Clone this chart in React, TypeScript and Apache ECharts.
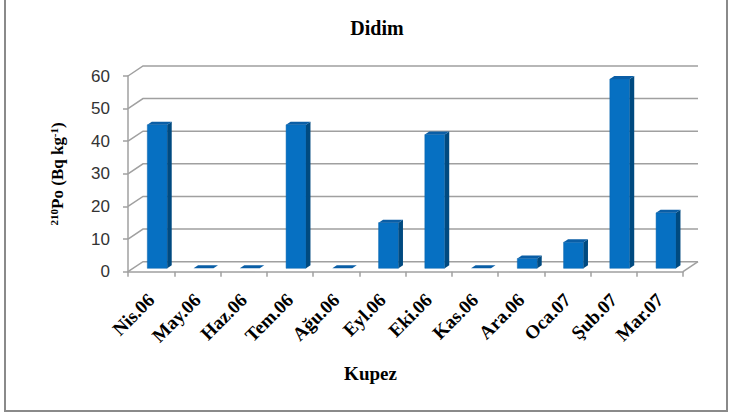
import React, { useEffect, useRef } from "react";
import * as echarts from "echarts";

// Monthly 210Po activity at Didim (Bq/kg)
const categories = [
  "Nis.06", "May.06", "Haz.06", "Tem.06", "Ağu.06", "Eyl.06",
  "Eki.06", "Kas.06", "Ara.06", "Oca.07", "Şub.07", "Mar.07",
];
const po210 = [44, 0, 0, 44, 0, 14, 41, 0, 3, 8, 58, 17];
const yTicks = [0, 10, 20, 30, 40, 50, 60];

const GRID_COLOR = "#a0a0a0";
const DEPTH_X = 15;
const DEPTH_Y = -10;

export default function App() {
  const ref = useRef<HTMLDivElement>(null);

  useEffect(() => {
    if (!ref.current) return;
    const chart = echarts.init(ref.current, null, { renderer: "svg" });

    // back wall gridlines with the oblique link to the front axis
    const wallItem = (params: any, api: any) => {
      const cs = params.coordSys;
      const y = api.coord([0, api.value(1)])[1];
      const children: any[] = [
        {
          type: "polyline",
          shape: {
            points: [
              [cs.x, y],
              [cs.x + DEPTH_X, y + DEPTH_Y],
              [cs.x + cs.width + DEPTH_X, y + DEPTH_Y],
            ],
          },
          style: { stroke: GRID_COLOR, lineWidth: 1.5, fill: "none" },
        },
      ];
      if (api.value(1) === 0) {
        children.push({
          type: "line",
          shape: {
            x1: cs.x + cs.width,
            y1: y,
            x2: cs.x + cs.width + DEPTH_X,
            y2: y + DEPTH_Y,
          },
          style: { stroke: GRID_COLOR, lineWidth: 1.5 },
        });
      }
      return { type: "group", children };
    };

    // 3D-looking bar: front face, right side and top
    const barItem = (params: any, api: any) => {
      const i = api.value(0);
      const v = api.value(1);
      const base = api.coord([i, 0]);
      const top = api.coord([i, v]);
      const band = api.size([1, 0])[0];
      const w = band * 0.43;
      const l = base[0] - band * 0.082;
      const r = l + w;
      const oy = -3.4;
      const dx = 4.5;
      const dy = -3;
      const yb = base[1] + oy;
      const yt = top[1] + oy;
      const children: any[] = [];
      if (v > 0) {
        children.push({
          type: "polygon",
          shape: { points: [[l, yb], [r, yb], [r, yt], [l, yt]] },
          style: { fill: "#0670c2", stroke: "#0a64ad", lineWidth: 0.5 },
        });
        children.push({
          type: "polygon",
          shape: { points: [[r, yb], [r + dx, yb + dy], [r + dx, yt + dy], [r, yt]] },
          style: { fill: "#004a80" },
        });
      }
      children.push({
        type: "polygon",
        shape: { points: [[l, yt], [r, yt], [r + dx, yt + dy], [l + dx, yt + dy]] },
        style: { fill: "#0a5ea6" },
      });
      return { type: "group", children };
    };

    chart.setOption({
      animation: false,
      backgroundColor: "#ffffff",
      title: {
        text: "Didim",
        left: 372,
        textAlign: "center",
        top: 13,
        textStyle: {
          fontFamily: "Liberation Serif",
          fontWeight: "bold",
          fontSize: 20,
          color: "#000",
        },
      },
      graphic: [
        {
          type: "rect",
          shape: { x: 5, y: -2, width: 722, height: 413 },
          style: { fill: "none", stroke: "#8a8a8a", lineWidth: 2 },
          silent: true,
        },
      ],
      grid: { left: 128, top: 76, width: 555, height: 195.7 },
      xAxis: {
        type: "category",
        data: categories,
        axisLine: { lineStyle: { color: GRID_COLOR, width: 1.5 } },
        axisTick: { show: true, length: 5, lineStyle: { color: GRID_COLOR, width: 1.5 } },
        axisLabel: {
          interval: 0,
          rotate: 45,
          margin: 25,
          fontFamily: "Liberation Serif",
          fontWeight: "bold",
          fontSize: 19,
          color: "#000",
        },
        name: "Kupez",
        nameLocation: "middle",
        nameGap: 92,
        nameTextStyle: {
          fontFamily: "Liberation Serif",
          fontWeight: "bold",
          fontSize: 19,
          color: "#000",
          padding: [0, 70, 0, 0],
        },
      },
      yAxis: {
        type: "value",
        min: 0,
        max: 60,
        interval: 10,
        axisLine: { show: true, lineStyle: { color: GRID_COLOR, width: 1.5 } },
        axisTick: { show: true, length: 5, lineStyle: { color: GRID_COLOR, width: 1.5 } },
        splitLine: { show: false },
        axisLabel: {
          margin: 18,
          fontFamily: "Liberation Sans",
          fontSize: 17,
          color: "#333",
        },
        name: "{sup|210}Po (Bq kg{sup|-1})",
        nameLocation: "middle",
        nameRotate: 90,
        nameGap: 61,
        nameTextStyle: {
          fontFamily: "Liberation Serif",
          fontWeight: "bold",
          fontSize: 17,
          color: "#000",
          rich: {
            sup: {
              fontFamily: "Liberation Serif",
              fontWeight: "bold",
              fontSize: 11,
              color: "#000",
              verticalAlign: "top",
              lineHeight: 19,
            },
          },
        },
      },
      series: [
        {
          type: "custom",
          name: "wall",
          z: 1,
          silent: true,
          renderItem: wallItem,
          data: yTicks.map((t) => [0, t]),
        },
        {
          type: "custom",
          name: "210Po",
          z: 3,
          renderItem: barItem,
          data: po210.map((v, i) => [i, v]),
        },
      ],
    });

    return () => chart.dispose();
  }, []);

  return (
    <div
      ref={ref}
      style={{ position: "fixed", left: 0, top: 0, width: 733, height: 415 }}
    />
  );
}
